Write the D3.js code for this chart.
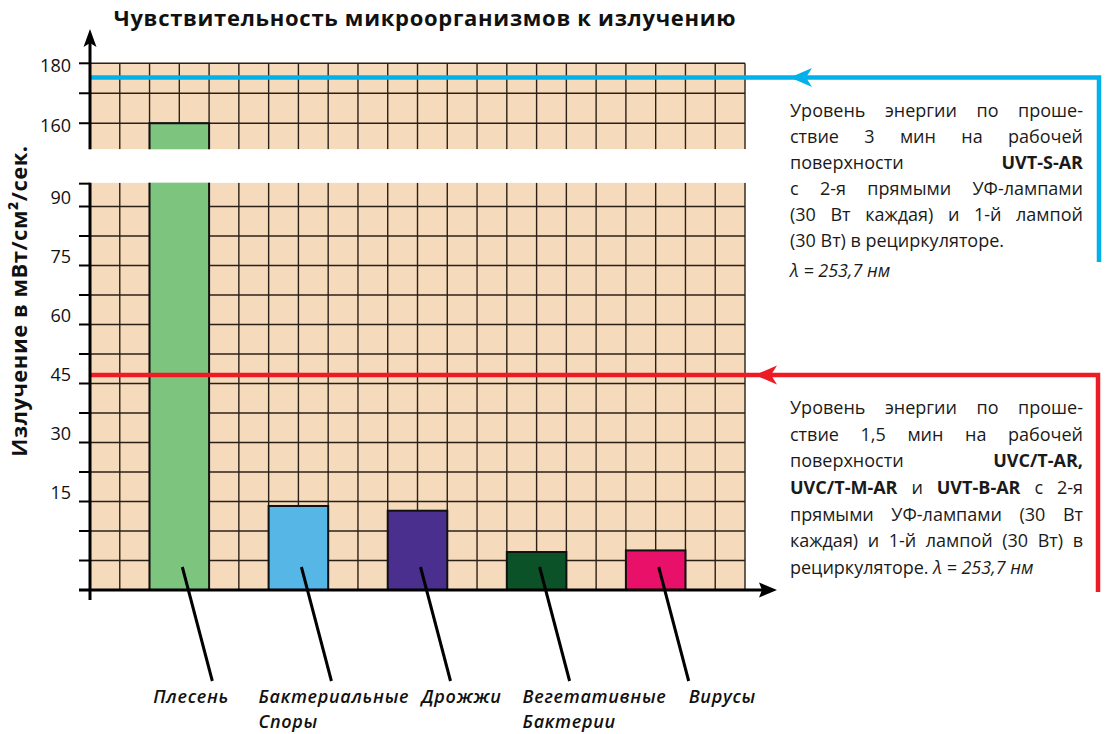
<!DOCTYPE html>
<html><head><meta charset="utf-8">
<script src="https://cdn.jsdelivr.net/npm/d3@7"></script>
<style>body{margin:0;background:#fff}svg{display:block;font-family:"Open Sans",sans-serif}</style>
</head><body><svg id="c" width="1105" height="734"></svg>
<script>
// ---------- data ----------
const categories = ["Плесень", "Бактериальные Споры", "Дрожжи", "Вегетативные Бактерии", "Вирусы"];
const categoryLabelLines = [["Плесень"], ["Бактериальные", "Споры"], ["Дрожжи"], ["Вегетативные", "Бактерии"], ["Вирусы"]];
const values = [160, 11.7, 10.5, 0, 0.4];
const barColors = ["#7dc47f", "#56b7e6", "#4b2f8f", "#0b5229", "#e9106a"];
const lowerTicks = [15, 30, 45, 60, 75, 90];
const upperTicks = [160, 180];
const upperGrid = [160, 170, 180];
const blueLevel = 175.3;   // UVT-S-AR, 3 min
const redLevel = 45;       // UVC/T-AR..., 1.5 min
const titleText = "Чувствительность микроорганизмов к излучению";
const yTitleText = "Излучение в мВт/см²/сек.";
const noteBlue = [
  "Уровень энергии по проше-",
  "ствие 3 мин на рабочей",
  "поверхности **UVT-S-AR**",
  "с 2-я прямыми УФ-лампами",
  "(30 Вт каждая) и 1-й лампой",
  "(30 Вт) в рециркуляторе.",
  "_λ = 253,7 нм_"
];
const noteRed = [
  "Уровень энергии по проше-",
  "ствие 1,5 мин на рабочей",
  "поверхности **UVC/T-AR,**",
  "**UVC/T-M-AR** и **UVT-B-AR** с 2-я",
  "прямыми УФ-лампами (30 Вт",
  "каждая) и 1-й лампой (30 Вт) в",
  "рециркуляторе. _λ = 253,7 нм_"
];

// ---------- layout ----------
const svg = d3.select("#c");
const axisFloor = -9.66, lowerTop = 93.9, upperFloor = 151.3;
const x = d3.scaleBand().domain(categories).range([90, 745]).paddingInner(0.5).paddingOuter(0.5);
const colW = x.step() / 4;
const lowerY = d3.scaleLinear().domain([axisFloor, 90]).range([590, 198]);
const upperY = d3.scaleLinear().domain([upperFloor, 180]).range([149.3, 63.3]);
const axisY = lowerY(axisFloor);
const x0 = x.range()[0], x1 = x.range()[1];
const gridCol = "#2a2018";

// backgrounds
svg.append("rect").attr("x", x0).attr("y", upperY(180)).attr("width", x1 - x0).attr("height", upperY(upperFloor) - upperY(180)).attr("fill", "#f6dabc");
svg.append("rect").attr("x", x0).attr("y", lowerY(lowerTop)).attr("width", x1 - x0).attr("height", axisY - lowerY(lowerTop)).attr("fill", "#f6dabc");

// grid
const g = svg.append("g").attr("stroke", gridCol).attr("stroke-width", 1.4);
const nCols = Math.round((x1 - x0) / colW);
for (let k = 1; k <= nCols; k++) {
  const xx = x0 + k * colW;
  g.append("line").attr("x1", xx).attr("x2", xx).attr("y1", upperY(180)).attr("y2", upperY(upperFloor));
  g.append("line").attr("x1", xx).attr("x2", xx).attr("y1", lowerY(lowerTop)).attr("y2", axisY);
}
const lowerGrid = [];
for (let v = axisFloor + 7.5; v < lowerTop; v += 7.5) lowerGrid.push(v);
lowerGrid.forEach(v => g.append("line").attr("x1", x0).attr("x2", x1).attr("y1", lowerY(v)).attr("y2", lowerY(v)));
upperGrid.forEach(v => g.append("line").attr("x1", x0).attr("x2", x1).attr("y1", upperY(v)).attr("y2", upperY(v)));

// bars
categories.forEach((c, i) => {
  const v = values[i];
  const top = v > lowerTop ? upperY(v) : lowerY(v);
  svg.append("rect").attr("x", x(c)).attr("y", top).attr("width", x.bandwidth()).attr("height", axisY - top)
    .attr("fill", barColors[i]).attr("stroke", "#111").attr("stroke-width", 2);
});

// break gap
svg.append("rect").attr("x", 80).attr("y", upperY(upperFloor)).attr("width", x1 - 80 + 4).attr("height", lowerY(lowerTop) - upperY(upperFloor)).attr("fill", "#fff");

// threshold lines with arrows
function level(yv, color, xRight, yEnd, tipX) {
  svg.append("path").attr("d", `M${x0},${yv}H${xRight}V${yEnd}`).attr("fill", "none").attr("stroke", color).attr("stroke-width", 4.5);
  svg.append("path").attr("d", `M${tipX},${yv}L${tipX + 22},${yv - 9.5}L${tipX + 16},${yv}L${tipX + 22},${yv + 9.5}Z`).attr("fill", color);
}
level(upperY(blueLevel), "#00b1ea", 1099, 262, 790);
level(lowerY(redLevel), "#ed1c24", 1098, 592, 755);

// axes
const ax = svg.append("g").attr("stroke", "#000");
ax.append("line").attr("x1", 90).attr("x2", 90).attr("y1", lowerY(lowerTop)).attr("y2", 600).attr("stroke-width", 3);
ax.append("line").attr("x1", 90).attr("x2", 90).attr("y1", upperY(upperFloor)).attr("y2", 42).attr("stroke-width", 3);
svg.append("path").attr("d", "M90,29L96.5,47L90,43L83.5,47Z").attr("fill", "#000");
ax.append("line").attr("x1", 79).attr("x2", 764).attr("y1", axisY).attr("y2", axisY).attr("stroke-width", 3);
svg.append("path").attr("d", `M777,${axisY}L759,${axisY - 7.5}L762,${axisY}L759,${axisY + 7.5}Z`).attr("fill", "#000");
const tickYs = lowerGrid.map(v => lowerY(v)).concat([lowerY(lowerTop) + 1]).concat(upperGrid.map(v => upperY(v)));
tickYs.forEach(t => ax.append("line").attr("x1", 79).attr("x2", 90).attr("y1", t).attr("y2", t).attr("stroke-width", 2));

// tick labels
lowerTicks.forEach(v => svg.append("text").attr("x", 71).attr("y", lowerY(v)).attr("dy", "0.36em").attr("text-anchor", "end")
  .attr("font-size", 18).attr("fill", "#111").text(v));
upperTicks.forEach(v => svg.append("text").attr("x", 71).attr("y", upperY(v) + 2).attr("dy", "0.36em").attr("text-anchor", "end")
  .attr("font-size", 18).attr("fill", "#111").text(v));

// title
svg.append("text").attr("x", 425).attr("y", 26).attr("text-anchor", "middle").attr("font-size", 22).attr("letter-spacing", 0.7)
  .attr("font-weight", 700).attr("fill", "#111").text(titleText);
svg.append("text").attr("transform", "translate(19,301) rotate(-90)").attr("text-anchor", "middle").attr("dy", "0.36em")
  .attr("font-size", 22).attr("letter-spacing", 0.5).attr("font-weight", 700).attr("fill", "#111").text(yTitleText);

// category labels and leader lines
const labelShift = [-26, -40, 4, -14, 33];
categories.forEach((c, i) => {
  const cx = x(c) + x.bandwidth() / 2;
  svg.append("line").attr("x1", cx + 3).attr("y1", axisY - 23).attr("x2", cx + 33).attr("y2", axisY + 91)
    .attr("stroke", "#000").attr("stroke-width", 3);
  const t = svg.append("text").attr("x", cx + labelShift[i]).attr("y", 703).attr("font-size", 18).attr("font-weight", 600)
    .attr("letter-spacing", 0.7).attr("font-style", "italic").attr("fill", "#111");
  categoryLabelLines[i].forEach((ln, j) => {
    t.append("tspan").attr("x", cx + labelShift[i]).attr("dy", j ? 24.6 : 0).text(ln);
  });
});

// justified notes
function note(lines, left, right, baseline, lh, justifyCount, extraLast) {
  let bold = false, ital = false;
  lines.forEach((line, li) => {
    const y = baseline + li * lh + (li === lines.length - 1 ? extraLast : 0);
    const words = line.split(" ").map(w => {
      let s = w;
      while (true) {
        if (s.startsWith("**")) { bold = !bold; s = s.slice(2); continue; }
        if (s.startsWith("_")) { ital = !ital; s = s.slice(1); continue; }
        break;
      }
      const st = { b: bold, i: ital };
      while (true) {
        if (s.endsWith("**")) { bold = !bold; s = s.slice(0, -2); continue; }
        if (s.endsWith("_")) { ital = !ital; s = s.slice(0, -1); continue; }
        break;
      }
      return { t: s, b: st.b, i: st.i };
    });
    const els = words.map(w => svg.append("text").attr("y", y).attr("font-size", 18).attr("fill", "#1a1a1a")
      .attr("font-weight", w.b ? 700 : 400).attr("font-style", w.i ? "italic" : "normal").text(w.t));
    const widths = els.map(e => e.node().getComputedTextLength());
    const sum = d3.sum(widths);
    const gap = li < justifyCount && words.length > 1 ? (right - left - sum) / (words.length - 1) : 4.6;
    let cx = left;
    els.forEach((e, k) => { e.attr("x", cx); cx += widths[k] + gap; });
  });
}
note(noteBlue, 790, 1083, 117, 26, 5, 4);
note(noteRed, 790, 1083, 414, 26.67, 6, 0);
</script></body></html>
